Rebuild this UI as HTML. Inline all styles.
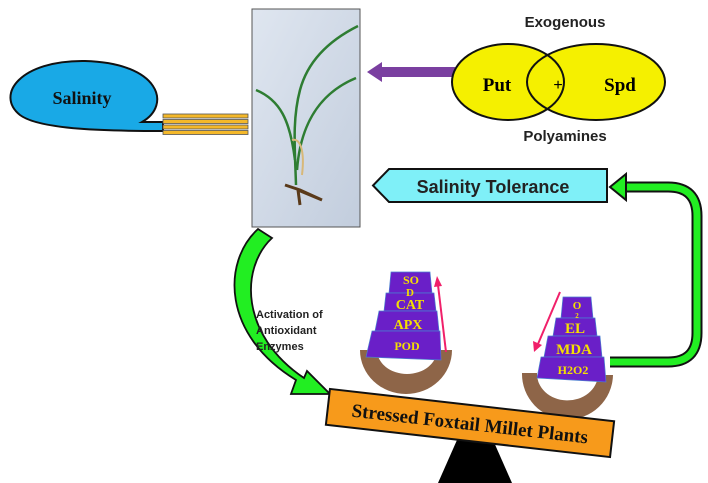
<!DOCTYPE html>
<html><head><meta charset="utf-8"><style>
html,body{margin:0;padding:0;background:#fff;width:708px;height:483px;overflow:hidden}
svg{display:block}
.s{font-family:"Liberation Serif",serif;font-weight:bold}
.a{font-family:"Liberation Sans",sans-serif}
</style></head><body>
<svg width="708" height="483" viewBox="0 0 708 483" xmlns="http://www.w3.org/2000/svg">
<defs>
<linearGradient id="ph" x1="0" y1="0" x2="1" y2="1">
<stop offset="0" stop-color="#dfe6f0"/><stop offset="1" stop-color="#c2cddd"/>
</linearGradient>
</defs>
<!-- photo -->
<rect x="252" y="9" width="108" height="218" fill="url(#ph)" stroke="#555" stroke-width="1"/>
<path d="M296 185 C295 150 292 120 300 90 C308 60 330 40 358 26" stroke="#2e7d32" stroke-width="2.5" fill="none"/>
<path d="M297 170 C300 130 315 95 356 78" stroke="#2e7d32" stroke-width="2.5" fill="none"/>
<path d="M295 160 C290 120 280 100 256 90" stroke="#2e7d32" stroke-width="2.5" fill="none"/>
<path d="M292 140 C300 138 305 150 302 175" stroke="#d8b878" stroke-width="2" fill="none"/>
<path d="M285 185 L300 190 L322 200 L310 195 L298 190 L300 205" stroke="#5a3a1a" stroke-width="3" fill="none"/>
<!-- salinity bubble -->
<path d="M163 122 L142 122 C172 105 160 63 85 61 C20 60 -5 95 20 115 C40 130 110 131 163 131 Z" fill="#19a9e6" stroke="#111" stroke-width="2"/>
<text x="82" y="104" class="s" font-size="18" text-anchor="middle" fill="#111">Salinity</text>
<g fill="#f4b82a" stroke="#555" stroke-width="0.8">
<rect x="163" y="114" width="85" height="4"/><rect x="163" y="119.5" width="85" height="4"/>
<rect x="163" y="125" width="85" height="4"/><rect x="163" y="130.5" width="85" height="4"/>
</g>
<!-- purple arrow -->
<path d="M455 67 L382 67 L382 62 L367 72 L382 82 L382 77 L455 77 Z" fill="#7a3fa0"/>
<!-- polyamine ellipses -->
<ellipse cx="596" cy="82" rx="69" ry="38" fill="#f5f000"/>
<ellipse cx="508" cy="82" rx="56" ry="38" fill="#f5f000"/>
<ellipse cx="596" cy="82" rx="69" ry="38" fill="none" stroke="#111" stroke-width="2"/>
<ellipse cx="508" cy="82" rx="56" ry="38" fill="none" stroke="#111" stroke-width="2"/>
<text x="497" y="91" class="s" font-size="19" text-anchor="middle">Put</text>
<text x="620" y="91" class="s" font-size="19" text-anchor="middle">Spd</text>
<text x="558" y="90" class="a" font-size="16" text-anchor="middle">+</text>
<text x="565" y="27" class="a" font-size="15" font-weight="bold" text-anchor="middle" fill="#222">Exogenous</text>
<text x="565" y="141" class="a" font-size="15" font-weight="bold" text-anchor="middle" fill="#222">Polyamines</text>
<!-- salinity tolerance -->
<path d="M389 169 L607 169 L607 202 L389 202 L373 185.5 Z" fill="#7ff0f8" stroke="#111" stroke-width="2"/>
<text x="493" y="193" class="a" font-size="18" font-weight="bold" text-anchor="middle" fill="#222">Salinity Tolerance</text>
<!-- right green arrow -->
<path d="M610 362 L668 362 Q697 362 697 333 L697 216 Q697 187 668 187 L625 187" fill="none" stroke="#111" stroke-width="11"/>
<path d="M610 362 L668 362 Q697 362 697 333 L697 216 Q697 187 668 187 L625 187" fill="none" stroke="#22ee22" stroke-width="7"/>
<path d="M626 174 L610 187 L626 200 Z" fill="#22ee22" stroke="#111" stroke-width="2"/>
<!-- left green curved arrow -->
<path d="M258 229 C222 262 222 335 296 380 L291 394 L330 394 L307 371 L304 378 C240 335 240 268 272 238 Z" fill="#22ee22" stroke="#111" stroke-width="1.8"/>
<text class="a" font-size="11" font-weight="bold" fill="#222"><tspan x="256" y="318">Activation of</tspan><tspan x="256" y="334">Antioxidant</tspan><tspan x="256" y="350">Enzymes</tspan></text>
<!-- fulcrum -->
<path d="M457 440 L493 440 L512 483 L438 483 Z" fill="#000"/>
<!-- left bowl -->
<path d="M360 350 A46 44 0 0 0 452 350 L437 350 A30 24 0 0 1 377 350 Z" fill="#8e6548"/>
<!-- left stack -->
<path d="M391 272 L430 272 L432 293 L389 293 Z" fill="#6a1fc8" stroke="#4a7fd0" stroke-width="0.7"/>
<path d="M386 293 L434 293 L436 311 L384 311 Z" fill="#6a1fc8" stroke="#4a7fd0" stroke-width="0.7"/>
<path d="M379 311 L437 311 L439 331 L375 331 Z" fill="#6a1fc8" stroke="#4a7fd0" stroke-width="0.7"/>
<path d="M372 331 L440 331 L441 360 L366 357 Z" fill="#6a1fc8" stroke="#4a7fd0" stroke-width="0.7"/>
<g class="s" fill="#f5e000" text-anchor="middle">
<text x="411" y="284" font-size="12">SO</text><text x="410" y="296" font-size="11">D</text>
<text x="410" y="309" font-size="14">CAT</text><text x="408" y="329" font-size="14">APX</text>
<text x="407" y="350" font-size="12">POD</text>
</g>
<path d="M446 352 L438 285" stroke="#f0206a" stroke-width="2"/>
<path d="M434 287 L437 276 L442 286 Z" fill="#f0206a"/>
<!-- right bowl -->
<path d="M522 373 A45 45 0 0 0 613 375 L598 375 A30 26 0 0 1 537 373 Z" fill="#8e6548"/>
<path d="M563 297 L591 297 L593 318 L561 318 Z" fill="#6a1fc8" stroke="#4a7fd0" stroke-width="0.7"/>
<path d="M556 318 L595 318 L597 336 L553 336 Z" fill="#6a1fc8" stroke="#4a7fd0" stroke-width="0.7"/>
<path d="M548 336 L600 336 L602 357 L544 357 Z" fill="#6a1fc8" stroke="#4a7fd0" stroke-width="0.7"/>
<path d="M541 357 L604 357 L606 382 L537 378 Z" fill="#6a1fc8" stroke="#4a7fd0" stroke-width="0.7"/>
<g class="s" fill="#f5e000" text-anchor="middle">
<text x="577" y="309" font-size="11">O</text><text x="577" y="318" font-size="7">2</text>
<text x="575" y="333" font-size="15">EL</text><text x="574" y="354" font-size="15">MDA</text>
<text x="573" y="374" font-size="12">H2O2</text>
</g>
<path d="M560 292 L538 344" stroke="#f0206a" stroke-width="2"/>
<path d="M533 341 L534 352 L542 345 Z" fill="#f0206a"/>
<!-- beam -->
<g transform="translate(470,423) rotate(6.5)">
<rect x="-143" y="-18" width="286" height="36" fill="#f79a1b" stroke="#111" stroke-width="2"/>
<text x="0" y="7" class="s" font-size="19" text-anchor="middle" fill="#111">Stressed Foxtail Millet Plants</text>
</g>
</svg>
</body></html>
